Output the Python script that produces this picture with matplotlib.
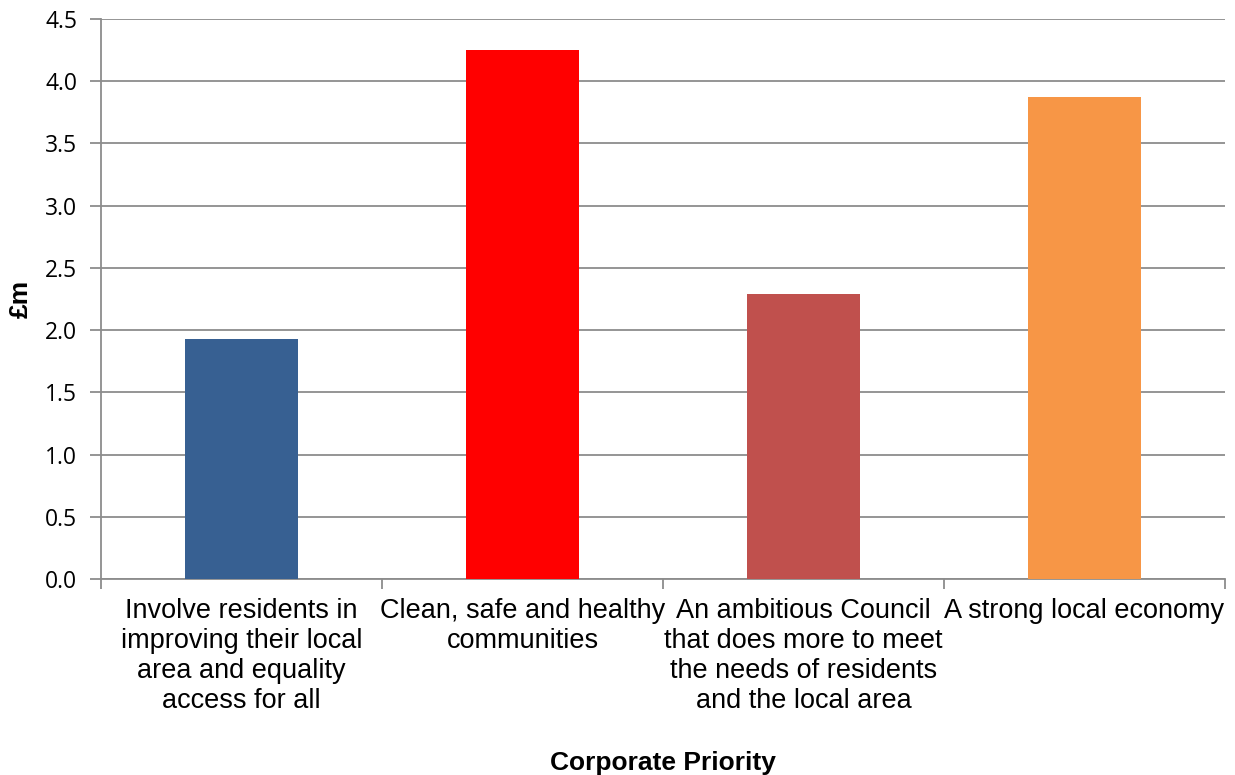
import matplotlib.pyplot as plt

categories = [
    "Involve residents in\nimproving their local\narea and equality\naccess for all",
    "Clean, safe and healthy\ncommunities",
    "An ambitious Council\nthat does more to meet\nthe needs of residents\nand the local area",
    "A strong local economy",
]
values = [1.93, 4.25, 2.29, 3.87]
colors = ["#376092", "#FF0000", "#C0504D", "#F79646"]
y_ticks = [0.0, 0.5, 1.0, 1.5, 2.0, 2.5, 3.0, 3.5, 4.0, 4.5]

grid_col = "#8C8C8C"

fig = plt.figure(figsize=(12.35, 7.75), dpi=100)
ax = fig.add_axes([101 / 1235, 1 - 579 / 775, 1124 / 1235, 560 / 775])

x = list(range(len(categories)))
ax.bar(x, values, width=0.4, color=colors, zorder=3)

ax.set_xlim(-0.5, len(categories) - 0.5)
ax.set_ylim(0, 4.5)
ax.set_yticks(y_ticks)
ax.set_yticklabels([f"{v:.1f}" for v in y_ticks], fontfamily="Open Sans", fontsize=16.5)
ax.yaxis.grid(True, color=grid_col, linewidth=1.3, zorder=0)

# category labels in the middle, tick marks between categories
ax.set_xticks(x)
ax.set_xticklabels(categories, fontfamily="Liberation Sans", fontsize=19.5, linespacing=1.2)
ax.tick_params(axis="x", length=0, pad=14)
ax.set_xticks([i + 0.5 for i in range(-1, len(categories))], minor=True)
ax.tick_params(axis="x", which="minor", length=7, color=grid_col, width=1.3)
ax.tick_params(axis="y", length=8, color=grid_col, width=1.3, pad=9)

for side in ["top", "right"]:
    ax.spines[side].set_visible(False)
for side in ["left", "bottom"]:
    ax.spines[side].set_color(grid_col)
    ax.spines[side].set_linewidth(1.3)

fig.text(21 / 1235, 1 - 299 / 775, "£m", rotation=90, ha="center", va="center",
         fontfamily="Liberation Sans", fontweight="bold", fontsize=19)
fig.text(663 / 1235, 1 - 763 / 775, "Corporate Priority", ha="center", va="center",
         fontfamily="Liberation Sans", fontweight="bold", fontsize=19)

fig.savefig("out.png", dpi=100)
